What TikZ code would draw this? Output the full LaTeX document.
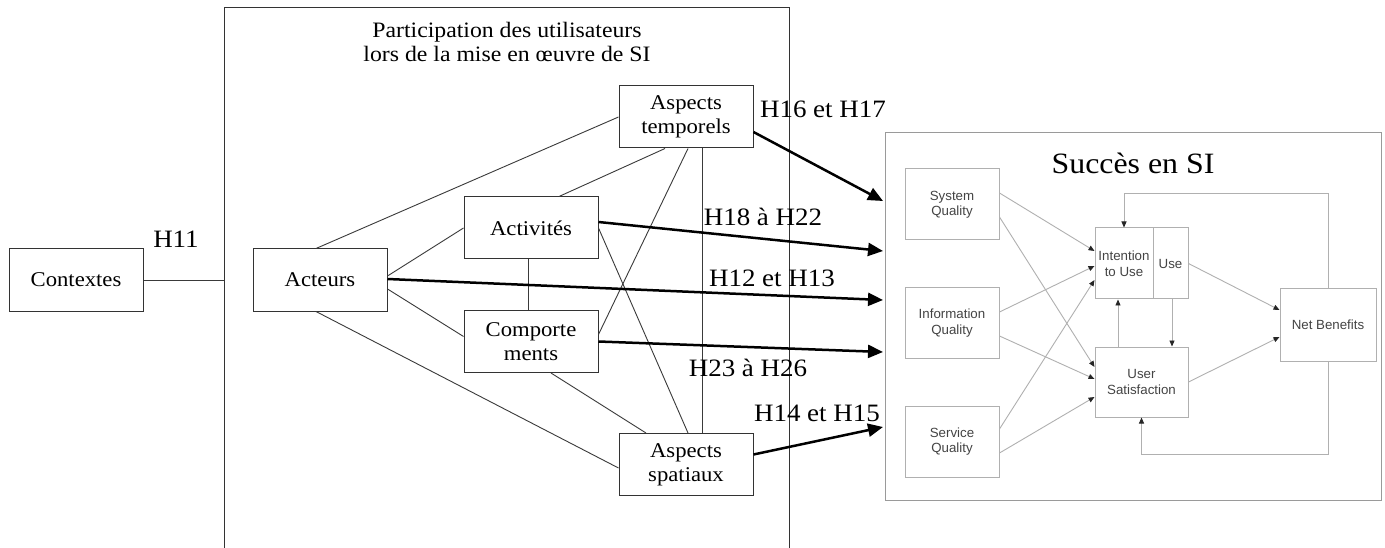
\documentclass[tikz,border=0pt]{standalone}
\usepackage{fontspec}
\setmainfont{Liberation Serif}[FakeStretch=1.08]
\newfontfamily\sifont{Liberation Sans}
\usetikzlibrary{arrows.meta}
\definecolor{boxline}{HTML}{333333}
\definecolor{conline}{HTML}{3A3A3A}
\definecolor{siframe}{HTML}{9A9A9A}
\definecolor{siinner}{HTML}{B0B0B0}
\definecolor{sitext}{HTML}{444444}
\tikzset{
  pbox/.style={draw=boxline, line width=1pt, fill=white, minimum width=134pt, minimum height=62pt, inner sep=0pt, align=center, font=\fontsize{21}{24}\selectfont},
  conn/.style={draw=conline, line width=0.9pt},
  harrow/.style={draw=black, line width=2.5pt, -{Triangle[length=15pt,width=13pt]}},
  hlabel/.style={font=\fontsize{25}{28}\selectfont, inner sep=0pt},
  sibox/.style={draw=siinner, line width=1pt, fill=white, inner sep=0pt, align=center, text=sitext, font=\sifont\fontsize{13.3}{15.5}\selectfont},
  sarr/.style={draw=siinner, line width=0.9pt, -{Triangle[length=6pt,width=5pt,color=black!85]}},
}
\begin{document}
\begin{tikzpicture}[x=1pt,y=-1pt]
\useasboundingbox (0,0) rectangle (1385,548);
\fill[white] (0,0) rectangle (1385,548);
% big frame
\draw[boxline, line width=1pt] (224,548) -- (224,8) -- (789,8) -- (789,548);
\node[align=center, font=\fontsize{22}{24}\selectfont] (title) at (507,42) {Participation des utilisateurs\\lors de la mise en \oe uvre de SI};

% left nodes
\node[pbox] (ctx) at (76,280) {Contextes};
\node[pbox] (act) at (320,280) {Acteurs};
\node[pbox] (acv) at (531,228) {Activités};
\node[pbox] (comp) at (531,341.5) {Comporte\\ments};
\node[pbox] (tem) at (686,117) {Aspects\\temporels};
\node[pbox] (spa) at (686,464.5) {Aspects\\spatiaux};
\coordinate (frameL) at (224,280);

\draw[conn] (ctx.east) -- (frameL);
\node[hlabel] (h11) at (176,239) {H11};

\draw[conn] ([xshift=-4pt]act.north) -- (tem.west);
\draw[conn] ([yshift=4pt]act.east) -- (acv.west);
\draw[conn] ([yshift=-9pt]act.east) -- ([yshift=5pt]comp.west);
\draw[conn] ([xshift=-4pt]act.south) -- ([yshift=-3.5pt]spa.west);
\draw[conn] ([xshift=-3pt]acv.south) -- ([xshift=-3pt]comp.north);
\draw[conn] ([xshift=28pt]acv.north) -- ([xshift=-21pt]tem.south);
\draw[conn] ([xshift=20pt]comp.south) -- ([xshift=-40pt]spa.north);
\draw[conn] (acv.east) -- ([xshift=2pt]spa.north);
\draw[conn] ([yshift=7pt]comp.east) -- ([xshift=2pt]tem.south);
\draw[conn] ([xshift=16pt]tem.south) -- ([xshift=16pt]spa.north);

% SI frame
\node[draw=siframe, line width=1pt, minimum width=496pt, minimum height=367pt, inner sep=0pt] (si) at (1133,316.5) {};
\node[font=\fontsize{29.5}{32}\selectfont, inner sep=0pt] (sititle) at (1133,163) {Succès en SI};

\coordinate (t1) at (883,201);
\coordinate (t2) at (883,251);
\coordinate (t3) at (883,300);
\coordinate (t4) at (883,352);
\coordinate (t5) at (883,427);

\draw[harrow] ([yshift=-15pt]tem.east) -- (t1);
\draw[harrow] ([yshift=6pt]acv.east) -- (t2);
\draw[harrow] ([yshift=1pt]act.east) -- (t3);
\draw[harrow] (comp.east) -- (t4);
\draw[harrow] ([yshift=10pt]spa.east) -- (t5);

\node[hlabel] (l1) at (823,109) {H16 et H17};
\node[hlabel] (l2) at (763,217) {H18 à H22};
\node[hlabel] (l3) at (772,278) {H12 et H13};
\node[hlabel] (l4) at (748,368) {H23 à H26};
\node[hlabel] (l5) at (817,413) {H14 et H15};

% SI inner model
\node[sibox, minimum width=94pt, minimum height=71pt] (sys) at (952,204.5) {System\\Quality};
\node[sibox, minimum width=94pt, minimum height=71pt] (inf) at (952,323) {Information\\Quality};
\node[sibox, minimum width=94pt, minimum height=71pt] (ser) at (952,441.5) {Service\\Quality};
\node[sibox, minimum width=58pt, minimum height=71pt] (int) at (1124,263.5) {Intention\\to Use};
\node[sibox, minimum width=35pt, minimum height=71pt] (use) at (1170.5,263.5) {Use};
\node[sibox, minimum width=93pt, minimum height=70pt] (us) at (1141.5,382) {User\\Satisfaction};
\node[sibox, minimum width=96pt, minimum height=72pt] (nb) at (1328,325) {Net Benefits};

\draw[sarr] ([yshift=11.5pt]sys.east) -- ([yshift=12.5pt]int.west);
\draw[sarr] ([yshift=-12.5pt]sys.east) -- ([yshift=15pt]us.west);
\draw[sarr] ([yshift=11pt]inf.east) -- ([yshift=-2.5pt]int.west);
\draw[sarr] ([yshift=-13pt]inf.east) -- ([yshift=3pt]us.west);
\draw[sarr] ([yshift=12.5pt]ser.east) -- ([yshift=-16.5pt]int.west);
\draw[sarr] ([yshift=-11.5pt]ser.east) -- ([yshift=-15pt]us.west);
\draw[sarr] (use.east) -- ([yshift=15pt]nb.west);
\draw[sarr] (us.east) -- ([yshift=-12pt]nb.west);
\draw[sarr] ([xshift=-23.5pt]us.north) -- ([xshift=-6pt]int.south);
\draw[sarr] ([xshift=1.5pt]use.south) -- ([xshift=30.5pt]us.north);
\draw[sarr] (nb.north) -- ++(0,-95) -| (int.north);
\draw[sarr] (nb.south) -- ++(0,93) -| (us.south);
\end{tikzpicture}
\end{document}
